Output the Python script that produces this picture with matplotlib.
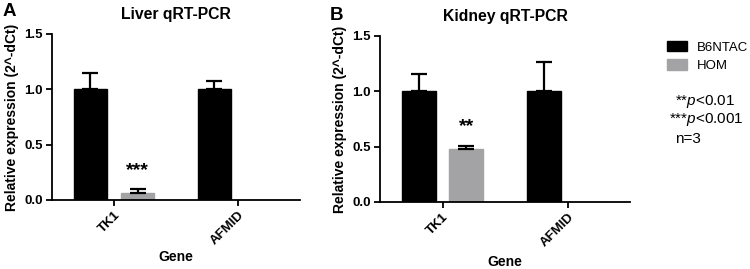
import numpy as np
import matplotlib
matplotlib.use('Agg')
import matplotlib.pyplot as plt
from matplotlib.patches import Patch

plt.rcParams['font.family'] = ['Liberation Sans', 'DejaVu Sans']
plt.rcParams['mathtext.fontset'] = 'custom'
plt.rcParams['mathtext.rm'] = 'Liberation Sans'
plt.rcParams['mathtext.it'] = 'Liberation Sans:italic'
plt.rcParams['axes.linewidth'] = 1.3

# data
genes = ['TK1', 'AFMID']
groups = ['B6NTAC', 'HOM']
liver_b6 = [1.0, 1.0]
liver_b6_err = [0.15, 0.075]
liver_hom = [0.065, 0.0]
liver_hom_err = [0.032, 0.0]
kidney_b6 = [1.0, 1.0]
kidney_b6_err = [0.157, 0.262]
kidney_hom = [0.48, 0.0]
kidney_hom_err = [0.027, 0.0]
liver_stars = ['***', '']
kidney_stars = ['**', '']

colors = ['#000000', '#a3a3a5']

fig = plt.figure(figsize=(7.5, 2.69), dpi=100)
ax_a = fig.add_axes([52/750, 1-200/269, 248/750, 166/269])
ax_b = fig.add_axes([380/750, 1-202/269, 250/750, 166/269])


def draw_panel(ax, b6, b6_err, hom, hom_err, stars, title, gene_y):
    x = np.arange(len(genes))
    w = 0.27
    off = 0.19
    for vals, errs, shift, c in [(b6, b6_err, -off, colors[0]), (hom, hom_err, off, colors[1])]:
        ax.bar(x + shift, vals, width=w, color=c, edgecolor=c, linewidth=1, zorder=2)
        for xi, v, e in zip(x + shift, vals, errs):
            if e > 0:
                ax.errorbar(xi, v, yerr=[[0], [e]], fmt='none', ecolor='black',
                            elinewidth=1.6, capsize=5.5, capthick=1.6, zorder=3)
    for xi, v, e, s in zip(x + off, hom, hom_err, stars):
        if s:
            ax.text(xi, v + e + 0.095, s, ha='center', va='bottom',
                    fontsize=14, fontweight='bold')
    ax.set_xlim(-0.5, 1.5)
    ax.set_ylim(0, 1.5)
    ax.set_yticks([0, 0.5, 1.0, 1.5])
    ax.set_yticklabels(['0.0', '0.5', '1.0', '1.5'])
    ax.set_xticks(x)
    ax.set_xticklabels(genes, rotation=45, ha='right', rotation_mode='anchor')
    ax.tick_params(axis='both', direction='out', length=4, width=1.3,
                   labelsize=9.5, pad=2.5)
    for lab in ax.get_xticklabels() + ax.get_yticklabels():
        lab.set_fontweight('bold')
    ax.spines['top'].set_visible(False)
    ax.spines['right'].set_visible(False)
    ax.set_ylabel('Relative expression (2^-dCt)', fontsize=10, fontweight='bold', labelpad=4)
    ax.set_xlabel('Gene', fontsize=10, fontweight='bold')
    ax.xaxis.set_label_coords(0.5, gene_y)
    ax.set_title(title, fontsize=11.3, fontweight='bold', pad=11)


draw_panel(ax_a, liver_b6, liver_b6_err, liver_hom, liver_hom_err, liver_stars,
           'Liver qRT-PCR', -0.30)
draw_panel(ax_b, kidney_b6, kidney_b6_err, kidney_hom, kidney_hom_err, kidney_stars,
           'Kidney qRT-PCR', -0.32)

fig.text(3/750, 1-12/269, 'A', fontsize=13.5, fontweight='bold', va='center', ha='left')
fig.text(330/750, 1-15/269, 'B', fontsize=13.5, fontweight='bold', va='center', ha='left')

handles = [Patch(facecolor=c, edgecolor=c) for c in colors]
fig.legend(handles, groups, loc='upper left', bbox_to_anchor=(667/750, 1-41/269),
           frameon=False, fontsize=9.5, handlelength=1.5, handleheight=0.8,
           handletextpad=0.75, labelspacing=0.44, borderaxespad=0, borderpad=0)

fig.text(675/750, 1-101/269, r'**$\mathit{p}$<0.01', fontsize=11, va='center', ha='left')
fig.text(669/750, 1-120/269, r'***$\mathit{p}$<0.001', fontsize=11, va='center', ha='left')
fig.text(675/750, 1-139/269, 'n=3', fontsize=11, va='center', ha='left')

fig.savefig('out.png', dpi=100)
